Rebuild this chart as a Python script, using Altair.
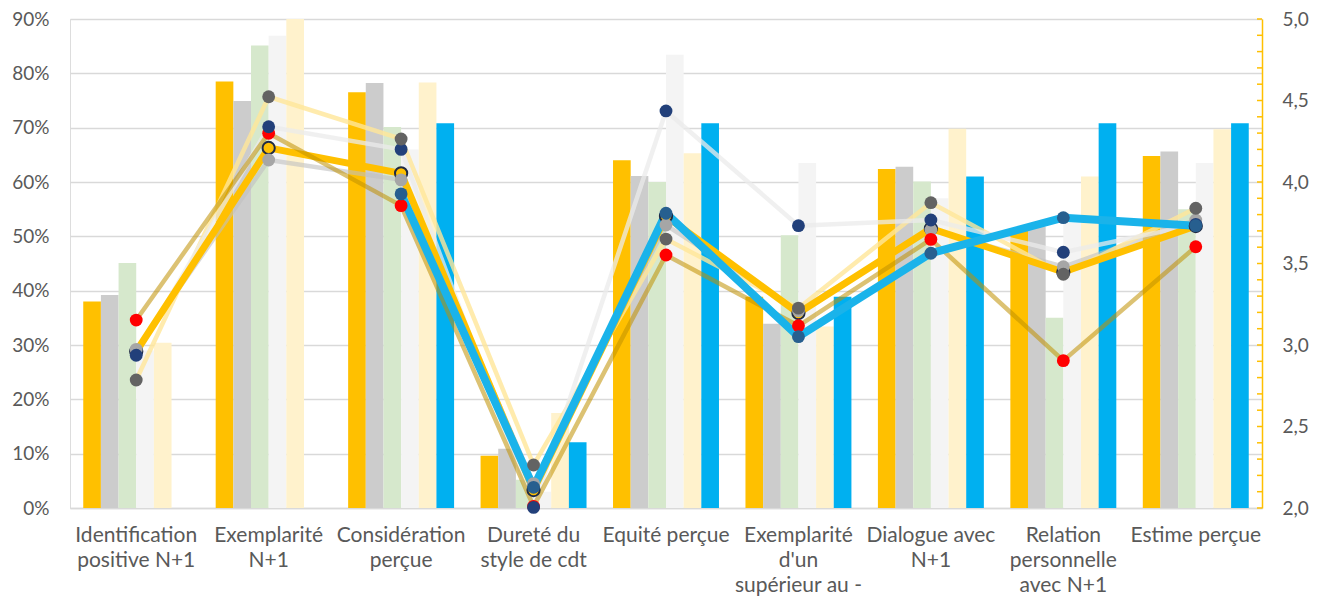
import altair as alt
import pandas as pd

# ---------------- data ----------------
categories = [
    "Identification|positive N+1", "Exemplarité|N+1", "Considération|perçue",
    "Dureté du|style de cdt", "Equité perçue", "Exemplarité|d'un|supérieur au -",
    "Dialogue avec|N+1", "Relation|personnelle|avec N+1", "Estime perçue",
]

bar_series = ["b1", "b2", "b3", "b4", "b5", "b6"]
bar_colors = ["#FFC000", "#CCCCCC", "#D6E8CC", "#F4F4F4", "#FFF2CC", "#00B0F0"]
bar_orange = [38.0, 78.5, 76.5, 9.6, 64.0, 38.9, 62.4, 51.2, 64.8]
bar_gray = [39.2, 74.9, 78.2, 10.9, 61.1, 33.9, 62.8, 51.8, 65.6]
bar_green = [45.1, 85.1, 70.1, 5.2, 60.0, 50.2, 60.1, 35.0, 55.0]
bar_white = [29.0, 86.9, 66.0, 3.0, 83.4, 63.5, 57.0, 52.5, 63.5]
bar_yellow = [30.4, 90.0, 78.3, 17.5, 65.3, 33.4, 69.8, 61.0, 69.7]
bar_blue = [None, None, 70.8, 12.1, 70.8, 38.9, 61.0, 70.8, 70.8]

# line series (right axis, 2.0 - 5.0)
line_lightgray = [2.973, 4.135, 4.013, 2.15, 3.736, 3.21, 3.706, 3.48, 3.767]
line_yellow_dkgray = [2.785, 4.523, 4.264, 2.264, 3.65, 3.226, 3.873, 3.434, 3.839]
line_white_navy = [2.937, 4.339, 4.20, 2.004, 4.436, 3.732, 3.767, 3.569, 3.74]
line_orange = [2.96, 4.209, 4.053, 2.11, 3.79, 3.196, 3.715, 3.448, 3.73]
line_olive_red = [3.153, 4.299, 3.855, 2.01, 3.552, 3.118, 3.648, 2.904, 3.603]
line_cyan = [None, None, 3.927, 2.127, 3.808, 3.051, 3.563, 3.781, 3.732]

right_ticks = [2.0, 2.1, 2.2, 2.3, 2.4, 2.5, 2.6, 2.7, 2.8, 2.9, 3.0, 3.1, 3.2, 3.3,
               3.4, 3.5, 3.6, 3.7, 3.8, 3.9, 4.0, 4.1, 4.2, 4.3, 4.4, 4.5, 4.6,
               4.7, 4.8, 4.9, 5.0]
right_labels = [2.0, 2.5, 3.0, 3.5, 4.0, 4.5, 5.0]
left_labels = [0, 0.1, 0.2, 0.3, 0.4, 0.5, 0.6, 0.7, 0.8, 0.9]

# ---------------- tables ----------------
rows = []
for s, vals in zip(bar_series, [bar_orange, bar_gray, bar_green, bar_white, bar_yellow, bar_blue]):
    for c, v in zip(categories, vals):
        if v is not None:
            rows.append({"cat": c, "series": s, "value": v / 100})
bars_df = pd.DataFrame(rows)

W, H = 1192, 489
FONT = "Lato"
TXT = "#595959"

xscale = alt.Scale(domain=categories, paddingInner=0.2, paddingOuter=0.1)
xaxis = alt.Axis(title=None, labelAngle=0, labelExpr="split(datum.label, '|')",
                 labelFontSize=21, labelColor=TXT, labelFont=FONT, labelLineHeight=25,
                 labelPadding=16, ticks=False, domainColor="#D9D9D9", domainWidth=1.5,
                 labelBaseline="top")

bars = alt.Chart(bars_df).mark_bar().encode(
    x=alt.X("cat:N", scale=xscale, axis=xaxis, sort=categories),
    xOffset=alt.XOffset("series:N", sort=bar_series, scale=alt.Scale(paddingInner=0, paddingOuter=0)),
    y=alt.Y("value:Q", scale=alt.Scale(domain=[0, 0.9], nice=False, zero=True),
            axis=alt.Axis(title=None, values=left_labels, format=".0%", grid=True,
                          gridColor="#D9D9D9", gridWidth=1.5, domain=False, ticks=False,
                          labelFontSize=19, labelColor=TXT, labelFont=FONT, labelPadding=21)),
    color=alt.Color("series:N", scale=alt.Scale(domain=bar_series, range=bar_colors), legend=None),
)

yr_scale = alt.Scale(domain=[2, 5], nice=False, zero=False)
yr_axis = alt.Axis(title=None, orient="right", values=right_labels,
                   labelExpr="replace(format(datum.value, '.1f'), '.', ',')",
                   grid=False, ticks=False, domainColor="#FFC000", domainWidth=1.5,
                   labelFontSize=19, labelColor=TXT, labelFont=FONT, labelPadding=20)


def series_df(vals):
    return pd.DataFrame({"cat": categories, "v": vals}).dropna()


def line_layer(vals, color, width, opacity):
    return alt.Chart(series_df(vals)).mark_line(
        color=color, strokeWidth=width, opacity=opacity, strokeCap="round", strokeJoin="round"
    ).encode(
        x=alt.X("cat:N", scale=xscale, axis=xaxis, sort=categories),
        y=alt.Y("v:Q", scale=yr_scale, axis=yr_axis),
    )


def point_layer(vals, fill, size=165, stroke=None, sw=0):
    kw = dict(filled=True, fill=fill, size=size, opacity=1, shape="circle")
    if stroke:
        kw.update(stroke=stroke, strokeWidth=sw)
    return alt.Chart(series_df(vals)).mark_point(**kw).encode(
        x=alt.X("cat:N", scale=xscale, axis=xaxis, sort=categories),
        y=alt.Y("v:Q", scale=yr_scale, axis=yr_axis),
    )


ticks_df = pd.DataFrame({"v": right_ticks})
minor_ticks = alt.Chart(ticks_df).mark_rule(color="#FFC000", strokeWidth=1.5).encode(
    x=alt.value(W - 5), x2=alt.value(W),
    y=alt.Y("v:Q", scale=yr_scale, axis=yr_axis),
)

lines = alt.layer(
    minor_ticks,
    line_layer(line_lightgray, "#BFBFBF", 4.5, 0.6),
    line_layer(line_yellow_dkgray, "#FFE699", 4.5, 0.8),
    line_layer(line_white_navy, "#EBEBEB", 4.5, 0.75),
    line_layer(line_orange, "#FFC000", 7, 1),
    line_layer(line_olive_red, "#BF9000", 4.5, 0.55),
    line_layer(line_cyan, "#1AB3EA", 8, 1),
    point_layer(line_orange, "#FFC000", 150, "#1F2A44", 2),
    point_layer(line_lightgray, "#A6A6A6"),
    point_layer(line_olive_red, "#FF0000"),
    point_layer(line_white_navy, "#22407A"),
    point_layer(line_yellow_dkgray, "#636363"),
    point_layer(line_cyan, "#275F8F"),
)

chart = alt.layer(bars, lines).resolve_scale(y="independent").properties(
    width=W, height=H,
    autosize=alt.AutoSizeParams(type="none"),
    padding={"left": 62, "top": 11, "right": 55, "bottom": 88},
).configure_view(stroke=None).configure(background="white")

chart.save("out.html", embed_options={"renderer": "svg", "actions": False})
